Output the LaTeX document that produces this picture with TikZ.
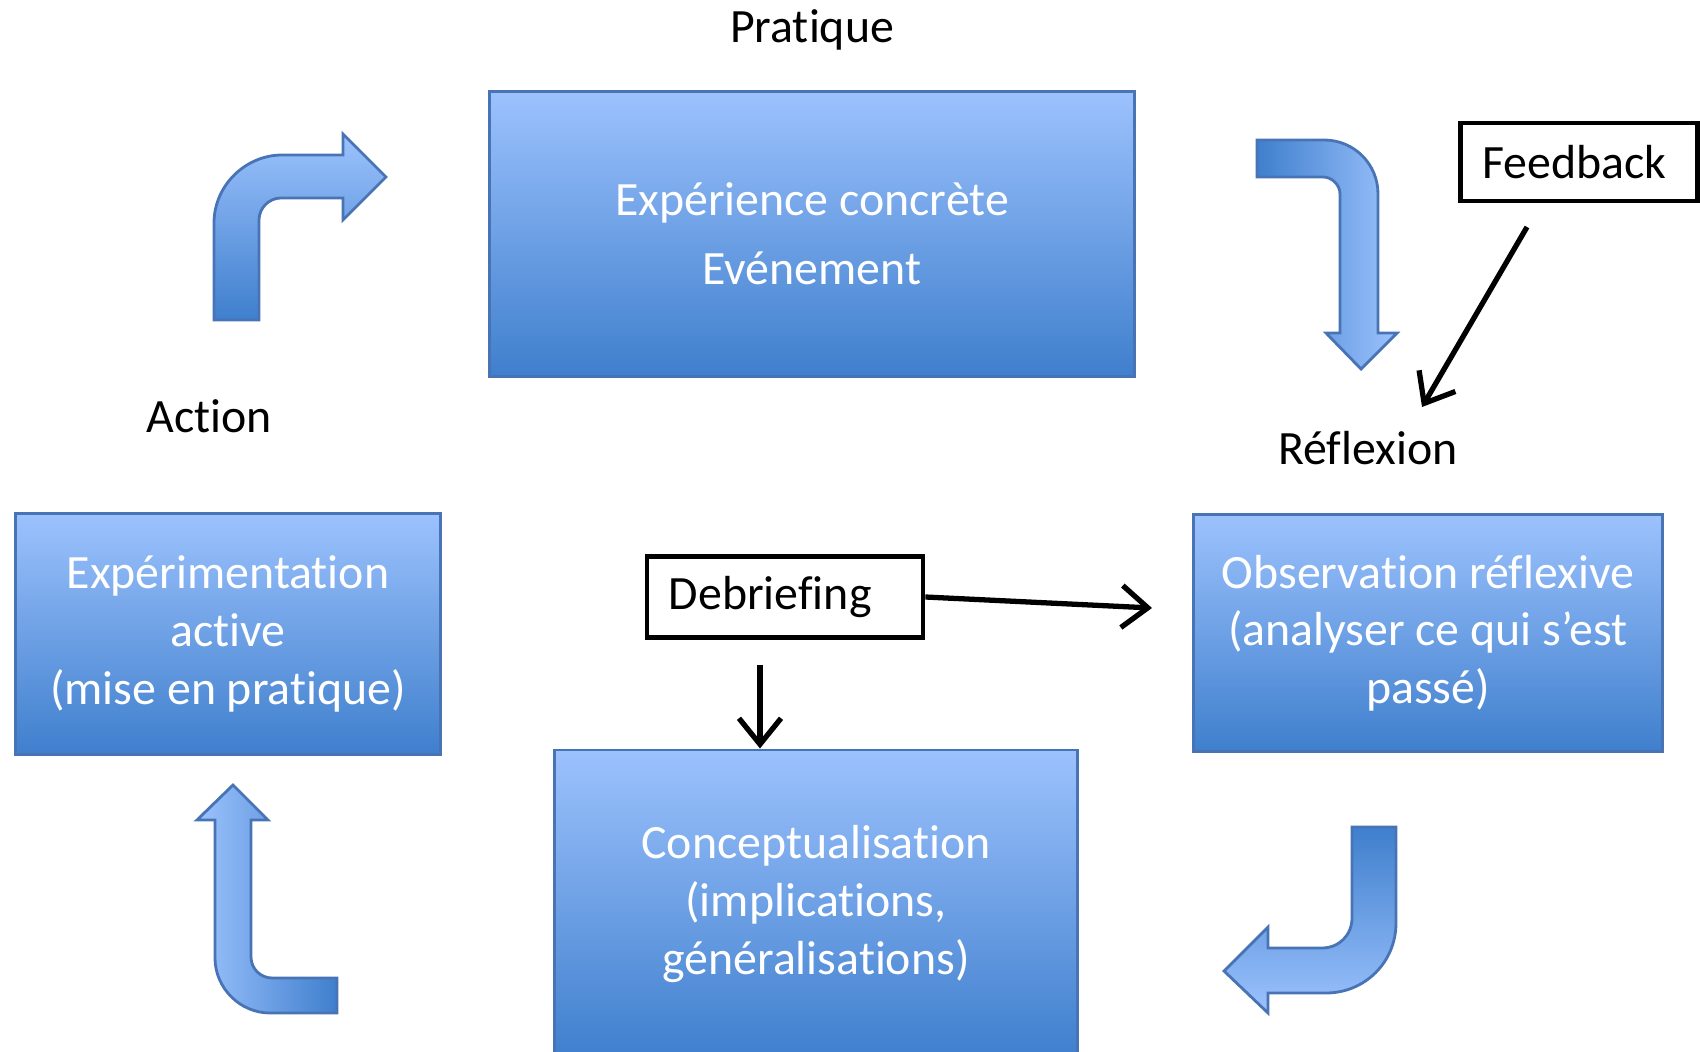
\documentclass[tikz,border=0pt]{standalone}
\usepackage{fontspec}
\setmainfont{Carlito}[Ligatures=NoCommon]
\usepackage{xcolor}
\usepackage{tikz}
\usetikzlibrary{arrows.meta, positioning}
\definecolor{boxlight}{RGB}{156,194,253}
\definecolor{boxdark}{RGB}{63,127,205}
\definecolor{boxedge}{RGB}{72,116,182}
\tikzstyle{stage} = [rectangle, draw=boxedge, line width=0.8pt, top color=boxlight, bottom color=boxdark, text=white, align=center, font=\fontsize{13.6}{16.4}\selectfont]
\tikzstyle{tag} = [rectangle, draw=black, line width=1.3pt, align=left, inner xsep=2.2mm, inner ysep=0pt, font=\fontsize{13.6}{16}\selectfont]
\tikzstyle{phase} = [inner sep=0pt, font=\fontsize{13.6}{16}\selectfont]
\tikzstyle{bentarrow} = [draw=boxedge, line width=0.8pt]
\tikzstyle{line} = [-{Straight Barb[length=2.6mm,width=4.2mm]}, line width=1.5pt]

\begin{document}
\begin{tikzpicture}[x=0.01cm, y=-0.01cm]
              \useasboundingbox (0,0) rectangle (1700,1052);

              % the four stages
              \node[stage, minimum width=6.44cm, minimum height=2.85cm, font=\fontsize{13.6}{19.6}\selectfont] (expe) at (812,234) {Expérience concrète\\Evénement};
              \node[stage, minimum width=4.68cm, minimum height=2.37cm] (obs) at (1428,633) {Observation réflexive\\(analyser ce qui s’est\\passé)};
              \node[stage, minimum width=5.22cm, minimum height=3.08cm] (concept) at (816,904) {Conceptualisation\\(implications,\\généralisations)};
              \node[stage, minimum width=4.25cm, minimum height=2.41cm] (expa) at (228,634) {Expérimentation\\active\\(mise en pratique)};

              \node[phase, above=11pt of expe] (prat) {Pratique};
              \node[phase] (act) at (209,416) {Action};
              \node[phase] (refl) at (1368,448) {Réflexion};

              \node[tag, text width=1.93cm, minimum height=0.78cm] (fb) at (1579,162) {Feedback};
              \node[tag, text width=2.32cm, minimum height=0.81cm] (deb) at (785,597) {Debriefing};

              % bent arrows of the cycle
              \path[bentarrow, top color=boxlight, bottom color=boxdark] (214,320) -- (214,223) .. controls (214,185) and (246,155) .. (282,155) -- (343,155) -- (343,134) -- (386,177) -- (343,220) -- (343,198) -- (281,198) .. controls (269,198) and (259,208) .. (259,220) -- (259,320) -- cycle;
              \path[bentarrow, left color=boxdark, right color=boxlight] (1257,140) -- (1324,140) .. controls (1354,140) and (1378,164) .. (1378,194) -- (1378,333) -- (1397,333) -- (1361,369) -- (1326,333) -- (1340,333) -- (1340,194) .. controls (1340,185) and (1332,177) .. (1323,177) -- (1257,177) -- cycle;
              \path[bentarrow, top color=boxdark, bottom color=boxlight] (1352,827) -- (1396,827) -- (1396,923) .. controls (1396,962) and (1365,993) .. (1326,993) -- (1268,993) -- (1268,1013) -- (1224,971) -- (1268,927) -- (1268,948) -- (1322,948) .. controls (1339,948) and (1352,935) .. (1352,918) -- cycle;
              \path[bentarrow, left color=boxlight, right color=boxdark] (337,1013) -- (270,1013) .. controls (240,1013) and (215,988) .. (215,958) -- (215,820) -- (197,820) -- (233,785) -- (268,820) -- (251,820) -- (251,957) .. controls (251,969) and (261,978) .. (272,978) -- (337,978) -- cycle;

              % feedback and debriefing
              \coordinate (fbtail) at (1527,227);
              \coordinate (fbhead) at (1422,407);
              \draw[line] (fbtail) -- (fbhead);
              \coordinate (debhead) at (1152,608);
              \draw[line] (deb.east) -- (debhead);
              \coordinate (debfoot) at ([xshift=-2.5mm,yshift=-2.5mm]deb.south);
              \draw[line] (debfoot) -- (debfoot |- concept.north);

          \end{tikzpicture}
\end{document}
